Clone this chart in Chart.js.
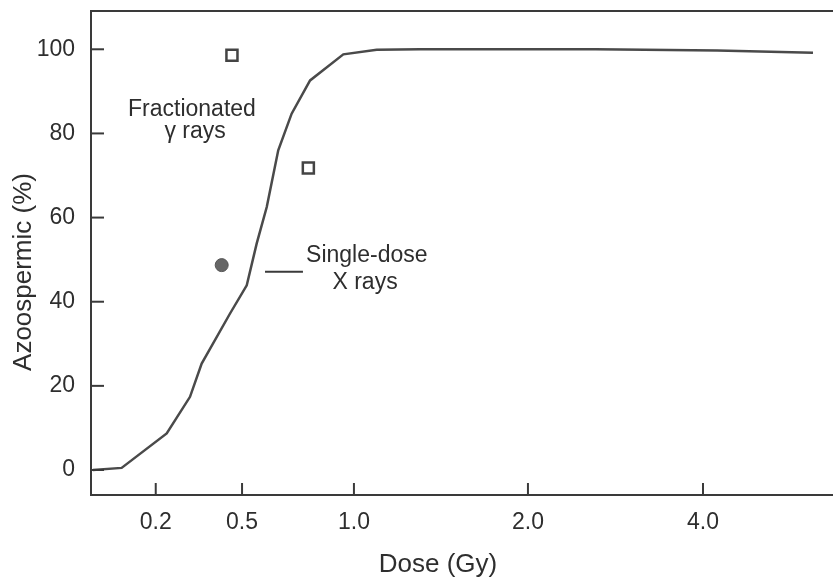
<!DOCTYPE html>
<html>
<head>
<meta charset="utf-8">
<script src="https://cdn.jsdelivr.net/npm/chart.js@4.4.1/dist/chart.umd.min.js"></script>
<style>
  html, body { margin: 0; padding: 0; background: #fff; }
  #wrap { width: 833px; height: 580px; }
</style>
</head>
<body>
<div id="wrap"><canvas id="chart"></canvas></div>
<script>
// x is the position along the (non-uniform) dose axis; tick labels give the dose
const xTickPos = [0.372, 0.868, 1.511, 2.511, 3.517];
const xTickLabels = ['0.2', '0.5', '1.0', '2.0', '4.0'];
const yTicks = [0, 20, 40, 60, 80, 100];

// single-dose X rays curve
const curveX = [0.011, 0.176, 0.435, 0.569, 0.636, 0.799, 0.895, 0.952, 1.010, 1.076, 1.153, 1.259, 1.450, 1.642, 1.891, 2.9, 3.6, 4.149];
const curveY = [0, 0.5, 8.7, 17.4, 25.3, 37.2, 43.9, 53.8, 62.5, 76, 84.7, 92.6, 98.8, 99.9, 100, 100, 99.7, 99.2];

// fractionated gamma rays (open squares)
const fracX = [0.810, 1.249];
const fracY = [98.6, 71.8];

// single point (filled circle)
const dotX = [0.751];
const dotY = [48.7];

const ink = '#3a3a3a';
const font = 'Liberation Sans, Arial, Helvetica, sans-serif';

const toPoints = (xs, ys) => xs.map((x, i) => ({ x: x, y: ys[i] }));

const decor = {
  id: 'decor',
  afterDraw(chart) {
    const ctx = chart.ctx;
    const xs = chart.scales.x;
    const ys = chart.scales.y;
    const area = chart.chartArea;
    ctx.save();
    ctx.strokeStyle = ink;
    ctx.lineWidth = 2;
    // top frame line
    ctx.beginPath();
    ctx.moveTo(area.left - 1, area.top);
    ctx.lineTo(area.right, area.top);
    ctx.stroke();
    // inward tick marks
    yTicks.forEach(v => {
      const py = ys.getPixelForValue(v);
      ctx.beginPath();
      ctx.moveTo(area.left, py);
      ctx.lineTo(area.left + 13, py);
      ctx.stroke();
    });
    xTickPos.forEach(v => {
      const px = xs.getPixelForValue(v);
      ctx.beginPath();
      ctx.moveTo(px, area.bottom);
      ctx.lineTo(px, area.bottom - 12);
      ctx.stroke();
    });
    // legend dash for the curve
    ctx.beginPath();
    ctx.moveTo(xs.getPixelForValue(1.0), ys.getPixelForValue(47.1));
    ctx.lineTo(xs.getPixelForValue(1.218), ys.getPixelForValue(47.1));
    ctx.stroke();

    ctx.fillStyle = '#2e2e2e';
    ctx.font = '23px ' + font;
    ctx.textAlign = 'center';
    ctx.textBaseline = 'middle';
    ctx.fillText('Fractionated', xs.getPixelForValue(0.580), ys.getPixelForValue(85.7));
    ctx.fillText('\u03b3 rays', xs.getPixelForValue(0.598), ys.getPixelForValue(80.5));
    ctx.fillText('Single-dose', xs.getPixelForValue(1.585), ys.getPixelForValue(51.0));
    ctx.fillText('X rays', xs.getPixelForValue(1.575), ys.getPixelForValue(44.6));

    // axis titles
    ctx.font = '26px ' + font;
    ctx.fillText('Dose (Gy)', area.left + 347, 565);
    ctx.translate(24, 272);
    ctx.rotate(-Math.PI / 2);
    ctx.fillText('Azoospermic (%)', 0, 0);
    ctx.restore();
  }
};

new Chart(document.getElementById('chart'), {
  type: 'scatter',
  data: {
    datasets: [
      {
        label: 'Single-dose X rays',
        data: toPoints(curveX, curveY),
        showLine: true,
        borderColor: '#4a4a4a',
        borderWidth: 2.5,
        pointRadius: 0,
        tension: 0
      },
      {
        label: 'Fractionated gamma rays',
        data: toPoints(fracX, fracY),
        pointStyle: 'rect',
        pointRadius: 7.8,
        backgroundColor: '#fff',
        borderColor: '#444',
        borderWidth: 2.5
      },
      {
        label: 'Single point',
        data: toPoints(dotX, dotY),
        pointStyle: 'circle',
        pointRadius: 6.5,
        backgroundColor: '#666',
        borderColor: '#555',
        borderWidth: 1
      }
    ]
  },
  options: {
    responsive: true,
    maintainAspectRatio: false,
    animation: false,
    layout: { autoPadding: false, padding: { top: 11, right: 0, left: 0, bottom: 0 } },
    plugins: { legend: { display: false }, tooltip: { enabled: false } },
    scales: {
      x: {
        type: 'linear',
        min: 0,
        max: 4.264,
        afterBuildTicks: s => { s.ticks = xTickPos.map(v => ({ value: v })); },
        afterFit: s => { s.height = 85; s.paddingRight = 0; s.paddingLeft = 0; },
        grid: { display: false, drawTicks: false },
        border: { display: true, color: ink, width: 2 },
        ticks: {
          padding: 14,
          color: '#2e2e2e',
          font: { family: font, size: 23 },
          maxRotation: 0,
          callback: (v, i) => xTickLabels[i]
        }
      },
      y: {
        min: -5.94,
        max: 109.1,
        afterBuildTicks: s => { s.ticks = yTicks.map(v => ({ value: v })); },
        afterFit: s => { s.width = 91; s.paddingTop = 0; s.paddingBottom = 0; },
        grid: { display: false, drawTicks: false },
        border: { display: true, color: ink, width: 2 },
        ticks: {
          padding: 16,
          color: '#2e2e2e',
          font: { family: font, size: 23 }
        }
      }
    }
  },
  plugins: [decor]
});
</script>
</body>
</html>
